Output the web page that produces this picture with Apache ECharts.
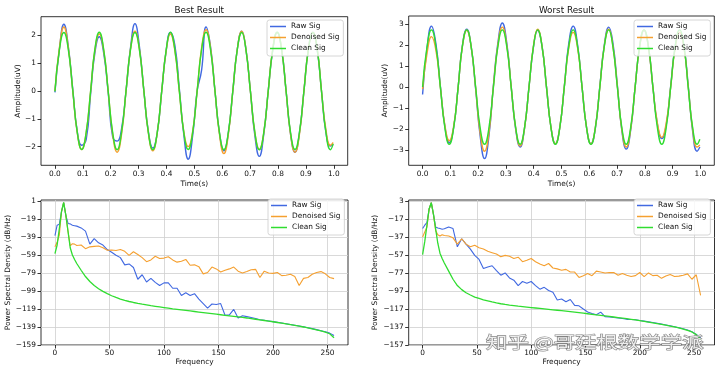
<!DOCTYPE html>
<html><head><meta charset="utf-8">
<script src="https://cdn.jsdelivr.net/npm/echarts@6/dist/echarts.min.js"></script>
<style>html,body{margin:0;padding:0;background:#fff}#c{width:720px;height:373px}</style>
</head><body><div id="c"></div>
<script>
// ---------- time-domain data ----------
const time = [0.000,0.016,0.032,0.048,0.064,0.080,0.096,0.112,0.128,0.143,0.159,0.175,0.191,0.207,0.223,0.239,
0.255,0.271,0.287,0.303,0.319,0.335,0.351,0.367,0.383,0.399,0.414,0.430,0.446,0.462,0.478,0.494,
0.510,0.526,0.542,0.558,0.574,0.590,0.606,0.622,0.638,0.654,0.670,0.685,0.701,0.717,0.733,0.749,
0.765,0.781,0.797,0.813,0.829,0.845,0.861,0.877,0.893,0.909,0.925,0.941,0.956,0.972,0.988,0.998];

const rawBest = [-0.05,1.50,2.40,1.60,0.05,-1.45,-1.95,-1.75,
 -0.10,1.35,1.95,1.35,-0.05,-1.65,-1.80,-1.35,
 0.00,1.55,2.42,1.60,0.00,-1.45,-2.05,-1.50,
 0.00,1.45,2.10,1.65,0.10,-1.55,-2.45,-1.60,
 0.00,0.75,2.30,1.60,0.00,-1.50,-2.15,-1.50,
 0.00,1.50,2.15,1.50,0.00,-1.60,-2.35,-1.55,
 0.00,1.45,2.10,1.50,0.00,-1.55,-2.20,-1.50,
 0.00,1.50,2.10,1.45,0.00,-1.50,-1.98,-1.92];
const denBest = [0.00,1.55,2.30,1.55,0.00,-1.50,-2.10,-1.50,
 0.00,1.45,2.05,1.45,0.00,-1.55,-2.20,-1.55,
 0.00,1.50,2.15,1.50,0.00,-1.50,-2.15,-1.50,
 0.00,1.45,2.05,1.45,0.00,-1.45,-2.00,-1.45,
 0.00,1.55,2.20,1.55,0.00,-1.55,-2.25,-1.55,
 0.00,1.50,2.15,1.50,0.00,-1.50,-2.10,-1.50,
 0.00,1.50,2.10,1.50,0.00,-1.55,-2.20,-1.55,
 0.00,1.50,2.10,1.50,0.00,-1.40,-1.95,-1.85];
const cleanBest = [-0.02,1.48,2.10,1.49,0.01,-1.48,-2.10,-1.49,
 0.00,1.49,2.11,1.48,-0.01,-1.49,-2.11,-1.48,
 0.01,1.49,2.10,1.48,0.00,-1.49,-2.11,-1.49,
 0.00,1.48,2.11,1.49,0.01,-1.48,-2.10,-1.49,
 0.00,1.49,2.11,1.48,0.00,-1.49,-2.11,-1.48,
 0.01,1.49,2.10,1.49,0.00,-1.48,-2.11,-1.49,
 0.00,1.48,2.11,1.49,0.01,-1.49,-2.10,-1.48,
 0.00,1.49,2.10,1.48,0.00,-1.49,-2.11,-1.90];

const rawWorst = [-0.35,1.85,2.90,2.05,0.05,-1.85,-2.65,-1.90,
 0.00,1.95,2.75,1.90,-0.10,-2.30,-3.40,-2.30,
 0.10,2.10,3.05,2.10,0.00,-2.00,-2.85,-1.95,
 0.00,1.90,2.70,1.95,0.00,-1.90,-2.70,-1.90,
 0.00,2.05,2.90,2.00,0.00,-1.90,-2.70,-1.95,
 0.05,2.00,2.85,2.10,0.10,-2.05,-2.95,-2.05,
 0.00,1.90,2.70,1.90,0.00,-1.75,-2.45,-1.80,
 0.05,1.90,2.60,1.90,0.10,-2.10,-3.05,-2.85];
const denWorst = [-0.10,1.60,2.40,1.75,0.00,-1.80,-2.55,-1.85,
 0.00,1.90,2.70,1.90,-0.05,-2.15,-3.05,-2.15,
 0.05,2.00,2.85,2.00,0.00,-1.95,-2.80,-1.95,
 0.00,1.95,2.75,1.95,0.00,-1.90,-2.70,-1.90,
 0.00,1.85,2.60,1.85,0.00,-1.90,-2.70,-1.90,
 0.00,1.95,2.75,1.95,0.05,-2.00,-2.85,-2.00,
 0.00,1.90,2.70,1.90,0.00,-1.70,-2.40,-1.70,
 0.00,1.85,2.60,1.85,0.05,-2.00,-2.85,-2.75];
const cleanWorst = [0.00,1.92,2.72,1.92,0.00,-1.92,-2.72,-1.92,
 0.00,1.92,2.72,1.92,0.00,-1.92,-2.72,-1.92,
 0.00,1.92,2.72,1.92,0.00,-1.92,-2.72,-1.92,
 0.00,1.92,2.72,1.92,0.00,-1.92,-2.72,-1.92,
 0.00,1.92,2.72,1.92,0.00,-1.92,-2.72,-1.92,
 0.00,1.92,2.72,1.92,0.00,-1.92,-2.72,-1.92,
 0.00,1.92,2.72,1.92,0.00,-1.92,-2.72,-1.92,
 0.00,1.92,2.72,1.92,0.00,-1.92,-2.72,-2.48];

// ---------- PSD data ----------
const freq = [0,2,4,6,8,10,12,14,16,18,20,24,28,32,36,40,44,48,52,56,60,64,68,72,76,80,84,88,92,96,100,
104,108,112,116,120,124,128,132,136,140,144,148,152,156,160,164,168,172,176,180,184,188,192,196,200,
204,208,212,216,220,224,228,232,236,240,244,248,252,256];

const rawPsdBest = [-37.5,-26,-25,-11,-0.8,-15,-24,-24.5,-26,-26.5,-27,
 -29,-32.5,-47,-40.8,-45.5,-48,-53,-56,-59.4,-62,
 -70,-69,-73,-86,-81,-89,-85,-89.5,-93,-90,
 -90,-96,-96,-104,-101,-104,-102,-108,-113,-118,
 -113.5,-114,-113,-126,-125.5,-119.5,-129,-126.5,-127.5,-128.5,
 -129.5,-131,-131.6,-132.3,-133,-133.8,-134.6,-135.4,-136.2,-137,
 -137.9,-138.8,-139.8,-140.8,-141.9,-143.1,-144.3,-145.8,-148.5];
const denPsdBest = [-50,-45,-37,-11,-0.8,-15,-33,-49,-46.5,-47,-48.5,
 -48,-52,-50,-49.5,-49,-51,-53.8,-53.5,-54,-53,
 -55,-59.5,-55.5,-58.5,-62,-66.5,-64.5,-60.5,-63,-62.5,
 -61,-64.5,-67,-66,-64,-70.5,-70,-72,-80,-78.5,
 -72.5,-74.5,-78,-76,-74.5,-72.5,-77,-79,-77.5,-75.5,
 -75,-84,-77,-79,-79.5,-78.5,-82,-81.5,-80.5,-83,
 -93,-85,-84,-80.5,-78.5,-77.5,-80,-84,-85.3];
const cleanPsdBest = [-57.5,-48,-30,-11,-0.8,-15,-33,-51,-59,-64,-68.5,
 -76,-83,-88.5,-93,-96.5,-99.5,-102,-104.3,-106.2,-108,
 -109.4,-110.7,-111.8,-112.8,-113.7,-114.5,-115.3,-116,-116.7,-117.4,
 -118.1,-118.8,-119.4,-120,-120.6,-121.2,-121.8,-122.4,-123,-123.6,
 -124.2,-124.8,-125.4,-126,-126.6,-127.2,-127.8,-128.4,-129,-129.7,
 -130.4,-131.1,-131.8,-132.5,-133.2,-134,-134.8,-135.6,-136.4,-137.2,
 -138.1,-139,-140,-141,-142.1,-143.3,-144.6,-146.5,-151];

const rawPsdWorst = [-27.7,-24,-21,-6,1,-12,-26,-27,-27.7,-28.5,-28,
 -26,-27.7,-48,-39,-45,-50.5,-57.5,-62,-72,-70.3,
 -69,-74.5,-79.5,-77,-82.5,-85,-91,-86.5,-88.5,-86.5,
 -91,-95,-93,-96.5,-98.5,-107,-106,-109,-106.5,-113,
 -113.5,-117,-120.3,-122,-123.5,-120.5,-125.5,-125.8,-126.5,-127,
 -127.5,-128.5,-128.7,-129,-129.8,-130.5,-131.3,-132.1,-132.9,-133.8,
 -134.7,-135.7,-136.7,-137.8,-139,-140.4,-142.2,-145.2,-149];
const denPsdWorst = [-37,-31.5,-26,-6,1,-12,-30,-34.5,-36,-34.5,-35.5,
 -36,-38,-45,-39,-45,-48,-46.3,-49,-50.5,-53,
 -54.5,-56,-59,-57.5,-58.5,-61,-59.5,-64.5,-63,-61,
 -64.5,-67,-69,-66.5,-71.5,-72.5,-74,-73,-76,-76,
 -82,-80,-77.7,-80,-75,-75.9,-77,-76.5,-76.6,-79.5,
 -77.5,-79.5,-81,-80,-76.5,-81,-77,-80,-79.6,-83,
 -80.5,-78.8,-81,-80.5,-79.5,-78,-84,-79,-102];
const cleanPsdWorst = [-56.6,-42,-24,-6,1,-12,-28,-44,-55,-61,-66,
 -75,-84,-91,-95.5,-99,-101.5,-103.8,-105.3,-106.8,-108,
 -109.2,-110.3,-111.2,-112,-112.7,-113.3,-113.9,-114.4,-114.9,-115.4,
 -115.9,-116.4,-116.9,-117.4,-117.9,-118.4,-118.9,-119.4,-119.9,-120.5,
 -121.1,-121.7,-122.3,-122.9,-123.5,-124.1,-124.7,-125.3,-125.9,-126.5,
 -127.1,-127.8,-128.5,-129.2,-130,-130.8,-131.6,-132.4,-133.2,-134.1,
 -135,-136,-137,-138.1,-139.3,-140.7,-142.5,-145.5,-150.5];

// ---------- ticks / labels ----------
const timeTicks = [0,0.1,0.2,0.3,0.4,0.5,0.6,0.7,0.8,0.9,1.0];
const ampTicksBest = [-2,-1,0,1,2];
const ampTicksWorst = [-3,-2,-1,0,1,2,3];
const freqTicks = [0,50,100,150,200,250];
const psdTicksBest = [-159,-139,-119,-99,-79,-59,-39,-19,1];
const psdTicksWorst = [-157,-137,-117,-97,-77,-57,-37,-17,3];
const seriesNames = ['Raw Sig','Denoised Sig','Clean Sig'];
const titles = ['Best Result','Worst Result'];
const watermark = '知乎 @哥廷根数学学派';

// ---------- styling ----------
const FONT = 'DejaVu Sans', FS = 7.4, TXT = '#111';
const COLORS = ['#4169e1', '#f5a030', '#30dd30'];
const minus = v => String(v).replace('-', '\u2212');

function xAx(gi, min, max, ticks, fmt, name, gap, grid) {
  return {type:'value', gridIndex:gi, min, max, name, nameLocation:'middle', nameGap:gap,
    nameTextStyle:{fontFamily:FONT, fontSize:FS, color:TXT},
    axisLine:{show:false, onZero:false},
    axisTick:{show:true, length:3.5, lineStyle:{color:'#000', width:0.8}, customValues:ticks},
    axisLabel:{customValues:ticks, formatter:fmt, margin:5, fontFamily:FONT, fontSize:FS, color:TXT},
    splitLine:{show:grid, lineStyle:{color:'#cfcfcf', width:0.8}}};
}
function yAx(gi, min, max, ticks, name, gap, grid) {
  return {type:'value', gridIndex:gi, min, max, name, nameLocation:'middle', nameGap:gap,
    nameTextStyle:{fontFamily:FONT, fontSize:FS, color:TXT},
    axisLine:{show:false, onZero:false},
    axisTick:{show:true, length:3.5, lineStyle:{color:'#000', width:0.8}, customValues:ticks},
    axisLabel:{customValues:ticks, formatter:v => minus(v), margin:5, fontFamily:FONT, fontSize:FS, color:TXT},
    splitLine:{show:grid, lineStyle:{color:'#cfcfcf', width:0.8}}};
}
function line(name, xs, ys, gi, color, w, smooth) {
  return {type:'line', name, xAxisIndex:gi, yAxisIndex:gi, data: xs.map((x,i)=>[x, ys[i]]),
    symbol:'none', smooth, lineStyle:{color, width:w}, itemStyle:{color}, silent:true, animation:false};
}
function legend(left, top) {
  return {left, top, orient:'vertical', data:seriesNames, icon:'rect', itemWidth:16, itemHeight:1.5,
    itemGap:2, padding:[2,4,3,3], backgroundColor:'rgba(255,255,255,0.8)', borderColor:'#cccccc',
    borderWidth:0.8, borderRadius:2.5, selectedMode:false,
    textStyle:{fontFamily:FONT, fontSize:FS, color:TXT, lineHeight:9}};
}
const gridBase = {show:true, borderColor:'#000', borderWidth:0.8, backgroundColor:'transparent', containLabel:false};

const option = {
  animation:false,
  backgroundColor:'#fff',
  title:[
    {text:titles[0], left:194.3, top:1, textAlign:'center', textStyle:{fontFamily:FONT, fontSize:8.8, fontWeight:'normal', color:TXT}},
    {text:titles[1], left:561.5, top:1, textAlign:'center', textStyle:{fontFamily:FONT, fontSize:8.8, fontWeight:'normal', color:TXT}}
  ],
  grid:[
    Object.assign({left:41, top:16.7, width:306.7, height:148.6}, gridBase),
    Object.assign({left:408.7, top:16, width:305.6, height:149.3}, gridBase),
    Object.assign({left:41, top:200, width:307, height:145}, gridBase),
    Object.assign({left:408.7, top:200, width:305.8, height:145}, gridBase)
  ],
  xAxis:[
    xAx(0, -0.05, 1.05, timeTicks, v => v.toFixed(1), 'Time(s)', 15, false),
    xAx(1, -0.05, 1.05, timeTicks, v => v.toFixed(1), 'Time(s)', 15, false),
    xAx(2, -12.8, 268.8, freqTicks, v => String(v), 'Frequency', 14, true),
    xAx(3, -12.8, 268.8, freqTicks, v => String(v), 'Frequency', 14, true)
  ],
  yAxis:[
    yAx(0, -2.67, 2.67, ampTicksBest, 'Amplitude(uV)', 19, false),
    yAx(1, -3.72, 3.38, ampTicksWorst, 'Amplitude(uV)', 19.7, false),
    yAx(2, -159, 2, psdTicksBest, 'Power Spectral Density (dB/Hz)', 29, true),
    yAx(3, -157, 4, psdTicksWorst, 'Power Spectral Density (dB/Hz)', 29.7, true)
  ],
  legend:[legend(267,20), legend(634,20), legend(268,199), legend(634,199)],
  series:[
    line(seriesNames[0], time, rawBest, 0, COLORS[0], 1.4, true),
    line(seriesNames[1], time, denBest, 0, COLORS[1], 1.4, true),
    line(seriesNames[2], time, cleanBest, 0, COLORS[2], 1.4, true),
    line(seriesNames[0], time, rawWorst, 1, COLORS[0], 1.4, true),
    line(seriesNames[1], time, denWorst, 1, COLORS[1], 1.4, true),
    line(seriesNames[2], time, cleanWorst, 1, COLORS[2], 1.4, true),
    line(seriesNames[0], freq, rawPsdBest, 2, COLORS[0], 1.1, false),
    line(seriesNames[1], freq, denPsdBest, 2, COLORS[1], 1.1, false),
    line(seriesNames[2], freq, cleanPsdBest, 2, COLORS[2], 1.3, false),
    line(seriesNames[0], freq, rawPsdWorst, 3, COLORS[0], 1.1, false),
    line(seriesNames[1], freq, denPsdWorst, 3, COLORS[1], 1.1, false),
    line(seriesNames[2], freq, cleanPsdWorst, 3, COLORS[2], 1.3, false)
  ],
  graphic:[{type:'text', x:486, y:334, scaleX:1.38, z:100, silent:true,
    style:{text:watermark, font:'15.5px "Noto Sans CJK SC"', fill:'rgba(255,255,255,0.85)',
      stroke:'rgba(90,90,90,0.75)', lineWidth:1.1, textVerticalAlign:'top'}}]
};
const chart = echarts.init(document.getElementById('c'), null, {renderer:'canvas'});
chart.setOption(option);
</script></body></html>
